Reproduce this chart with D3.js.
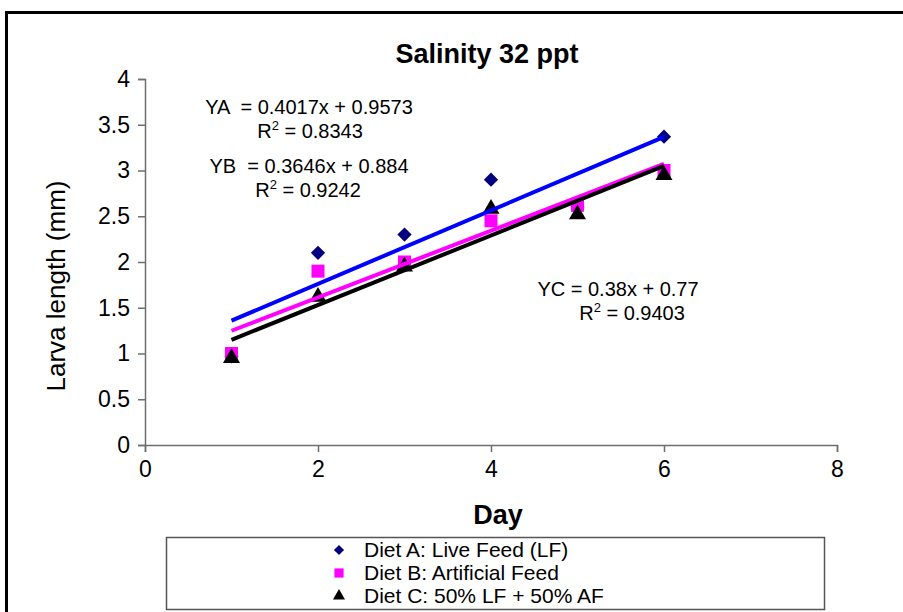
<!DOCTYPE html>
<html>
<head>
<meta charset="utf-8">
<script src="https://cdn.jsdelivr.net/npm/d3@7"></script>
<style>
  body { margin: 0; background: #fff; }
  text { font-family: "Liberation Sans", Arial, sans-serif; }
</style>
</head>
<body>
<div id="chart"></div>
<script>
// data
var days = [1, 2, 3, 4, 5, 6];
var dietA = [0.97, 2.1, 2.3, 2.9, 2.6, 3.37];
var dietB = [1.0, 1.9, 2.0, 2.45, 2.62, 3.0];
var dietC = [0.95, 1.62, 1.95, 2.58, 2.52, 2.95];

// trendline coefficients from the chart labels [slope, intercept]
var fitA = [0.4017, 0.9573];
var fitB = [0.3646, 0.884];
var fitC = [0.38, 0.77];

var xTicks = [0, 2, 4, 6, 8];
var yTicks = [0, 0.5, 1, 1.5, 2, 2.5, 3, 3.5, 4];

var legendLabels = ["Diet A: Live Feed (LF)", "Diet B: Artificial Feed", "Diet C: 50% LF + 50% AF"];

var svgWidth = 903, svgHeight = 612;

var svg = d3.select("#chart")
  .append("svg")
  .attr("width", svgWidth)
  .attr("height", svgHeight);

// outer frame
svg.append("rect")
  .attr("x", 6.5)
  .attr("y", 12.5)
  .attr("width", 940)
  .attr("height", 640)
  .attr("fill", "none")
  .attr("stroke", "#000")
  .attr("stroke-width", 3);

var xScale = d3.scaleLinear().domain([0, 8]).range([145, 837]);
var yScale = d3.scaleLinear().domain([0, 4]).range([445, 79]);

// axes
var bottomAxis = d3.axisBottom(xScale).tickValues(xTicks).tickSize(7).tickPadding(9).tickFormat(d3.format("d"));
var leftAxis = d3.axisLeft(yScale).tickValues(yTicks).tickSize(7).tickPadding(8).tickFormat(d => d);

var gx = svg.append("g")
  .attr("transform", `translate(0, ${yScale(0)})`)
  .call(bottomAxis);

var gy = svg.append("g")
  .attr("transform", `translate(${xScale(0)}, 0)`)
  .call(leftAxis);

[gx, gy].forEach(g => {
  g.selectAll("path, line").attr("stroke", "#6e6e6e").attr("stroke-width", 1.5);
  g.selectAll("text").attr("font-size", 23).attr("fill", "#000")
    .style("font-family", "'Liberation Sans', Arial, sans-serif");
});

// title and axis labels
svg.append("text")
  .attr("x", 487).attr("y", 63)
  .attr("text-anchor", "middle")
  .attr("font-size", 27).attr("font-weight", "bold")
  .text("Salinity 32 ppt");

svg.append("text")
  .attr("x", 498).attr("y", 524)
  .attr("text-anchor", "middle")
  .attr("font-size", 27).attr("font-weight", "bold")
  .text("Day");

svg.append("text")
  .attr("transform", "translate(65, 286) rotate(-90)")
  .attr("text-anchor", "middle")
  .attr("font-size", 26)
  .text("Larva length (mm)");

var series = [
  { vals: dietA, fit: fitA, marker: d3.symbolDiamond2, markerFill: "#000080", lineColor: "#0000ff", size: 130 },
  { vals: dietB, fit: fitB, marker: d3.symbolSquare, markerFill: "#ff00ff", lineColor: "#ff00ff", size: 169 },
  { vals: dietC, fit: fitC, marker: d3.symbolTriangle, markerFill: "#000000", lineColor: "#000000", size: 125 }
];

// markers
series.forEach(s => {
  svg.append("g").selectAll("path")
    .data(days.map((d, i) => [d, s.vals[i]]))
    .enter()
    .append("path")
    .attr("d", d3.symbol().type(s.marker).size(s.size))
    .attr("transform", d => `translate(${xScale(d[0])}, ${yScale(d[1])})`)
    .attr("fill", s.markerFill);
});

// trendlines
var line = d3.line().x(d => xScale(d[0])).y(d => yScale(d[1]));
series.forEach(s => {
  var x1 = d3.min(days), x2 = d3.max(days);
  svg.append("path")
    .datum([[x1, s.fit[0] * x1 + s.fit[1]], [x2, s.fit[0] * x2 + s.fit[1]]])
    .attr("d", line)
    .attr("fill", "none")
    .attr("stroke", s.lineColor)
    .attr("stroke-width", 4);
});

// equation labels
function eqLabel(cx, y, eq, cx2, r2) {
  svg.append("text")
    .attr("x", cx).attr("y", y)
    .attr("text-anchor", "middle")
    .attr("font-size", 20)
    .attr("xml:space", "preserve")
    .text(eq);
  var t = svg.append("text")
    .attr("x", cx2).attr("y", y + 24)
    .attr("text-anchor", "middle")
    .attr("font-size", 20);
  t.append("tspan").text("R");
  t.append("tspan").attr("font-size", 13).attr("dy", -8).text("2");
  t.append("tspan").attr("dy", 8).text(" = " + r2);
}
eqLabel(309, 114, "YA  = " + fitA[0] + "x + " + fitA[1], 310, "0.8343");
eqLabel(309, 173, "YB  = " + fitB[0] + "x + " + fitB[1], 308, "0.9242");
eqLabel(618, 296, "YC = " + fitC[0] + "x + " + fitC[1], 632, "0.9403");

// legend
svg.append("rect")
  .attr("x", 166.5).attr("y", 537.5)
  .attr("width", 658).attr("height", 72)
  .attr("fill", "#fff")
  .attr("stroke", "#555")
  .attr("stroke-width", 1.5);

var legend = svg.append("g").selectAll("g")
  .data(series)
  .enter()
  .append("g")
  .attr("transform", (d, i) => `translate(339, ${550 + i * 23})`);

legend.append("path")
  .attr("d", d => d3.symbol().type(d.marker).size(d.size * 0.5)())
  .attr("fill", d => d.markerFill);

legend.append("text")
  .attr("x", 25).attr("y", 7)
  .attr("font-size", 21)
  .text((d, i) => legendLabels[i]);
</script>
</body>
</html>
